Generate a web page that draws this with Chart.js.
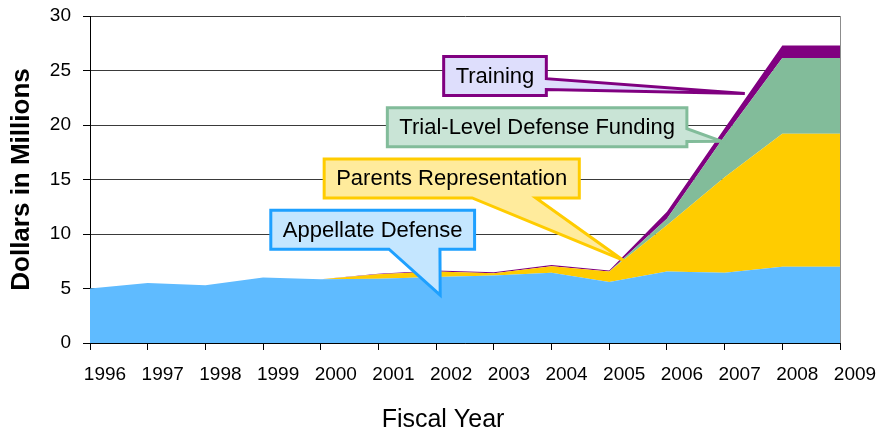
<!DOCTYPE html>
<html>
<head>
<meta charset="utf-8">
<script src="https://cdn.jsdelivr.net/npm/chart.js@4.4.1/dist/chart.umd.min.js"></script>
<style>
  html, body { margin: 0; padding: 0; background: #fff; }
  #wrap { width: 883px; height: 433px; }
</style>
</head>
<body>
<div id="wrap"><canvas id="fundingChart"></canvas></div>
<script>
const years = ["1996", "1997", "1998", "1999", "2000", "2001", "2002",
  "2003", "2004", "2005", "2006", "2007", "2008", "2009"];

// millions of dollars, stacked bottom to top
const appellate = [5.0, 5.5, 5.3, 6.0, 5.85, 5.9, 6.05, 6.2, 6.45, 5.6, 6.55, 6.45, 7.0, 7.0];
const parents = [0, 0, 0, 0, 0, 0.4, 0.5, 0.2, 0.6, 0.95, 4.25, 8.75, 12.2, 12.2];
const trialLevel = [0, 0, 0, 0, 0, 0, 0, 0, 0, 0, 0.6, 3.8, 6.95, 6.95];
const training = [0, 0, 0, 0, 0, 0.05, 0.1, 0.1, 0.1, 0.1, 0.65, 0.7, 1.15, 1.15];

const yMin = 0;
const yMax = 30;
const yStep = 5;

// callouts: box centre and tip in data units (category index, value)
const callouts = [
  { text: "Training", box: [7.02, 24.5], tip: [11.35, 22.9], side: "right", base: [0.57, 0.85],
    fill: "#dedefc", stroke: "#800080" },
  { text: "Trial-Level Defense Funding", box: [7.75, 19.8], tip: [10.95, 18.5], side: "right", base: [0.54, 0.87],
    fill: "#c9e4d6", stroke: "#82bc9a" },
  { text: "Parents Representation", box: [6.27, 15.1], tip: [9.24, 7.6], side: "bottom", base: [0.58, 0.83],
    fill: "#ffeb9c", stroke: "#ffcc00" },
  { text: "Appellate Defense", box: [4.9, 10.4], tip: [6.07, 4.4], side: "bottom", base: [0.58, 0.83],
    fill: "#c4e6ff", stroke: "#1ea0ff" },
];

const FONT = '"Liberation Sans", Arial, sans-serif';

const calloutPlugin = {
  id: "callouts",
  afterDraw(chart) {
    const ctx = chart.ctx;
    const sx = chart.scales.x;
    const sy = chart.scales.y;
    ctx.save();

    // x axis title, sits a little left of the plot centre like the original
    ctx.font = "25px " + FONT;
    ctx.fillStyle = "#000";
    ctx.textAlign = "center";
    ctx.textBaseline = "middle";
    ctx.fillText("Fiscal Year", (sx.left + sx.right) / 2 - 22, sx.bottom - 13);

    ctx.font = "22px " + FONT;
    callouts.forEach((c) => {
      const w = ctx.measureText(c.text).width + 24;
      const h = 39;
      const cx = sx.getPixelForValue(c.box[0]);
      const cy = sy.getPixelForValue(c.box[1]);
      const l = cx - w / 2, t = cy - h / 2, r = l + w, b = t + h;
      const tx = sx.getPixelForValue(c.tip[0]);
      const ty = sy.getPixelForValue(c.tip[1]);

      ctx.beginPath();
      ctx.moveTo(l, t);
      ctx.lineTo(r, t);
      if (c.side === "right") {
        ctx.lineTo(r, t + h * c.base[0]);
        ctx.lineTo(tx, ty);
        ctx.lineTo(r, t + h * c.base[1]);
      }
      ctx.lineTo(r, b);
      if (c.side === "bottom") {
        ctx.lineTo(l + w * c.base[1], b);
        ctx.lineTo(tx, ty);
        ctx.lineTo(l + w * c.base[0], b);
      }
      ctx.lineTo(l, b);
      ctx.closePath();
      ctx.fillStyle = c.fill;
      ctx.fill();
      ctx.lineWidth = 3;
      ctx.lineJoin = "miter";
      ctx.strokeStyle = c.stroke;
      ctx.stroke();

      ctx.fillStyle = "#000";
      ctx.fillText(c.text, cx, cy + 1);
    });
    ctx.restore();
  },
};

const area = (label, data, color, fill) => ({
  label,
  data,
  backgroundColor: color,
  borderColor: color,
  borderWidth: 0,
  pointRadius: 0,
  tension: 0,
  fill,
});

new Chart(document.getElementById("fundingChart"), {
  type: "line",
  data: {
    labels: years,
    datasets: [
      area("Appellate Defense", appellate, "#5fbbff", "origin"),
      area("Parents Representation", parents, "#ffcc00", "-1"),
      area("Trial-Level Defense Funding", trialLevel, "#82bc9a", "-1"),
      area("Training", training, "#800080", "-1"),
    ],
  },
  options: {
    responsive: true,
    maintainAspectRatio: false,
    animation: false,
    layout: { padding: { top: 16, right: 43, bottom: 0, left: 0 } },
    plugins: {
      legend: { display: false },
      tooltip: { enabled: false },
    },
    scales: {
      x: {
        type: "category",
        offset: false,
        afterFit: (s) => { s.height = 90; },
        grid: {
          drawOnChartArea: true,
          color: (c) => (c.index === years.length - 1 ? "#8c8c8c" : "rgba(0,0,0,0)"),
          tickColor: "#000",
          tickLength: 7,
        },
        border: { color: "#000", width: 1 },
        ticks: {
          color: "#000",
          font: { family: FONT, size: 19 },
          autoSkip: false,
          maxRotation: 0,
          labelOffset: 15,
          padding: 13,
        },
      },
      y: {
        stacked: true,
        min: yMin,
        max: yMax,
        afterFit: (s) => {
          s.width = 90;
          s.paddingTop = 0;
          s.paddingBottom = 0;
        },
        grid: {
          color: "#3a3a3a",
          tickColor: "#000",
          tickLength: 7,
        },
        border: { color: "#000", width: 1 },
        ticks: {
          stepSize: yStep,
          color: "#000",
          font: { family: FONT, size: 19 },
          padding: 12,
        },
        title: {
          display: true,
          text: "Dollars in Millions",
          color: "#000",
          font: { family: FONT, size: 26, weight: "bold" },
          padding: { top: 6, bottom: 0 },
        },
      },
    },
  },
  plugins: [calloutPlugin],
});
</script>
</body>
</html>
